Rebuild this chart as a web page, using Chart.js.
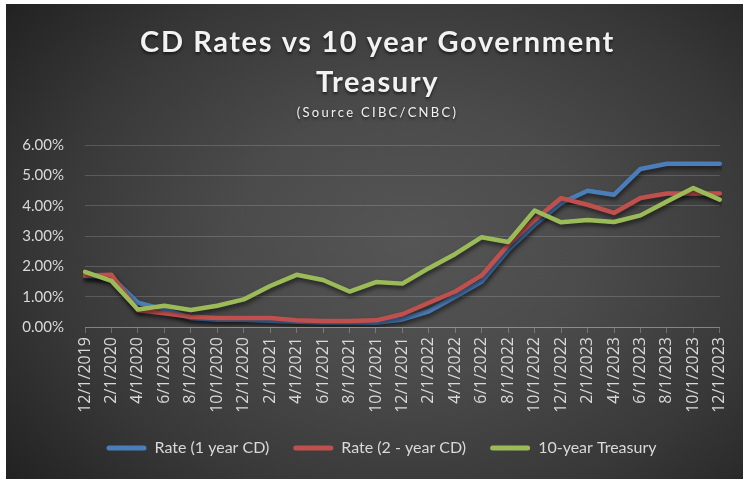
<!DOCTYPE html>
<html>
<head>
<meta charset="utf-8">
<title>CD Rates vs 10 year Government Treasury</title>
<script src="https://cdn.jsdelivr.net/npm/chart.js@4.4.0/dist/chart.umd.min.js"></script>
<style>
  html, body { margin: 0; padding: 0; background: #fff; }
  #wrap {
    position: absolute; left: 6px; top: 4px; width: 737px; height: 475px;
    background: radial-gradient(ellipse 70% 80% at 55% 50%, #555 0%, #4b4b4b 35%, #383838 70%, #222 100%);
  }
</style>
</head>
<body>
<div id="wrap"><canvas id="cd-chart"></canvas></div>
<script>
const dates = ['12/1/2019', '2/1/2020', '4/1/2020', '6/1/2020', '8/1/2020', '10/1/2020', '12/1/2020',
  '2/1/2021', '4/1/2021', '6/1/2021', '8/1/2021', '10/1/2021', '12/1/2021',
  '2/1/2022', '4/1/2022', '6/1/2022', '8/1/2022', '10/1/2022', '12/1/2022',
  '2/1/2023', '4/1/2023', '6/1/2023', '8/1/2023', '10/1/2023', '12/1/2023'];

// percent values
const oneYearCD = [1.68, 1.65, 0.80, 0.58, 0.30, 0.24, 0.24, 0.21, 0.17, 0.15, 0.15, 0.14, 0.25,
  0.52, 1.00, 1.50, 2.54, 3.37, 4.09, 4.49, 4.36, 5.21, 5.38, 5.38, 5.38];
const twoYearCD = [1.70, 1.72, 0.55, 0.45, 0.34, 0.30, 0.30, 0.30, 0.22, 0.20, 0.20, 0.22, 0.42,
  0.80, 1.17, 1.70, 2.71, 3.53, 4.25, 4.03, 3.76, 4.25, 4.40, 4.40, 4.40];
const treasury10 = [1.82, 1.52, 0.58, 0.70, 0.56, 0.70, 0.91, 1.35, 1.72, 1.55, 1.17, 1.48, 1.43,
  1.94, 2.41, 2.96, 2.80, 3.84, 3.45, 3.53, 3.46, 3.68, 4.14, 4.58, 4.20];

const titleLines = ['CD Rates vs 10 year Government', 'Treasury'];
const sourceNote = '(Source CIBC/CNBC)';

const textColor = '#d9d9d9';

// Excel-style title drawn on top, with letter spacing
const titlePlugin = {
  id: 'cdTitle',
  afterDraw(chart) {
    const ctx = chart.ctx;
    const cx = chart.width / 2 + 3;
    ctx.save();
    ctx.fillStyle = '#f2f2f2';
    ctx.textAlign = 'center';
    ctx.textBaseline = 'alphabetic';
    ctx.shadowColor = 'rgba(0,0,0,0.6)';
    ctx.shadowBlur = 3;
    ctx.shadowOffsetY = 2;
    ctx.font = 'bold 29px Lato';
    ctx.letterSpacing = '1.6px';
    ctx.fillText(titleLines[0], cx, 48);
    ctx.fillText(titleLines[1], cx, 88);
    ctx.font = '13px Lato';
    ctx.letterSpacing = '2.3px';
    ctx.fillText(sourceNote, cx, 113);
    ctx.restore();
  }
};

// soft drop shadow under the lines
const shadowPlugin = {
  id: 'lineShadow',
  beforeDatasetsDraw(chart) {
    const ctx = chart.ctx;
    ctx.save();
    ctx.shadowColor = 'rgba(0,0,0,0.55)';
    ctx.shadowBlur = 4;
    ctx.shadowOffsetX = 1;
    ctx.shadowOffsetY = 3;
  },
  afterDatasetsDraw(chart) {
    chart.ctx.restore();
  }
};

function lineSet(label, data, color, order) {
  return {
    label: label,
    data: data,
    borderColor: color,
    backgroundColor: color,
    borderWidth: 4.5,
    borderCapStyle: 'round',
    borderJoinStyle: 'round',
    pointRadius: 0,
    tension: 0,
    order: order
  };
}

const ctx = document.getElementById('cd-chart').getContext('2d');

const cdChart = new Chart(ctx, {
  type: 'line',
  data: {
    labels: dates,
    datasets: [
      lineSet('Rate (1 year CD)', oneYearCD, '#4a7ebb', 3),
      lineSet('Rate (2 - year CD)', twoYearCD, '#c0504d', 2),
      lineSet('10-year Treasury', treasury10, '#9bbb59', 1)
    ]
  },
  options: {
    responsive: true,
    maintainAspectRatio: false,
    animation: false,
    layout: {
      padding: { top: 141, left: 14, right: 0, bottom: 13 }
    },
    plugins: {
      title: { display: false },
      tooltip: { enabled: false },
      legend: {
        display: true,
        position: 'bottom',
        labels: {
          color: textColor,
          font: { family: 'Lato', size: 16 },
          boxWidth: 40,
          boxHeight: 5,
          padding: 24,
          useBorderRadius: true,
          borderRadius: 2.5,
          sort: (a, b) => a.datasetIndex - b.datasetIndex,
          generateLabels: (chart) => Chart.defaults.plugins.legend.labels.generateLabels(chart)
            .map(item => Object.assign(item, { lineWidth: 0 }))
        }
      }
    },
    scales: {
      x: {
        offset: false,
        afterFit: (scale) => { scale.height = 89; },
        grid: {
          display: true,
          drawOnChartArea: false,
          drawTicks: true,
          tickLength: 6,
          color: 'rgba(255,255,255,0.25)'
        },
        border: { display: true, color: 'rgba(255,255,255,0.25)', width: 1 },
        ticks: {
          color: textColor,
          font: { family: 'Open Sans', size: 16 },
          minRotation: 90,
          maxRotation: 90,
          autoSkip: false,
          padding: 4
        }
      },
      y: {
        min: 0,
        max: 6,
        afterFit: (scale) => { scale.width = 65; },
        grid: {
          color: 'rgba(255,255,255,0.16)',
          drawTicks: false
        },
        border: { display: false },
        ticks: {
          stepSize: 1,
          color: textColor,
          font: { family: 'Lato', size: 15 },
          padding: 21,
          callback: (v) => v.toFixed(2) + '%'
        }
      }
    }
  },
  plugins: [titlePlugin, shadowPlugin]
});
</script>
</body>
</html>
